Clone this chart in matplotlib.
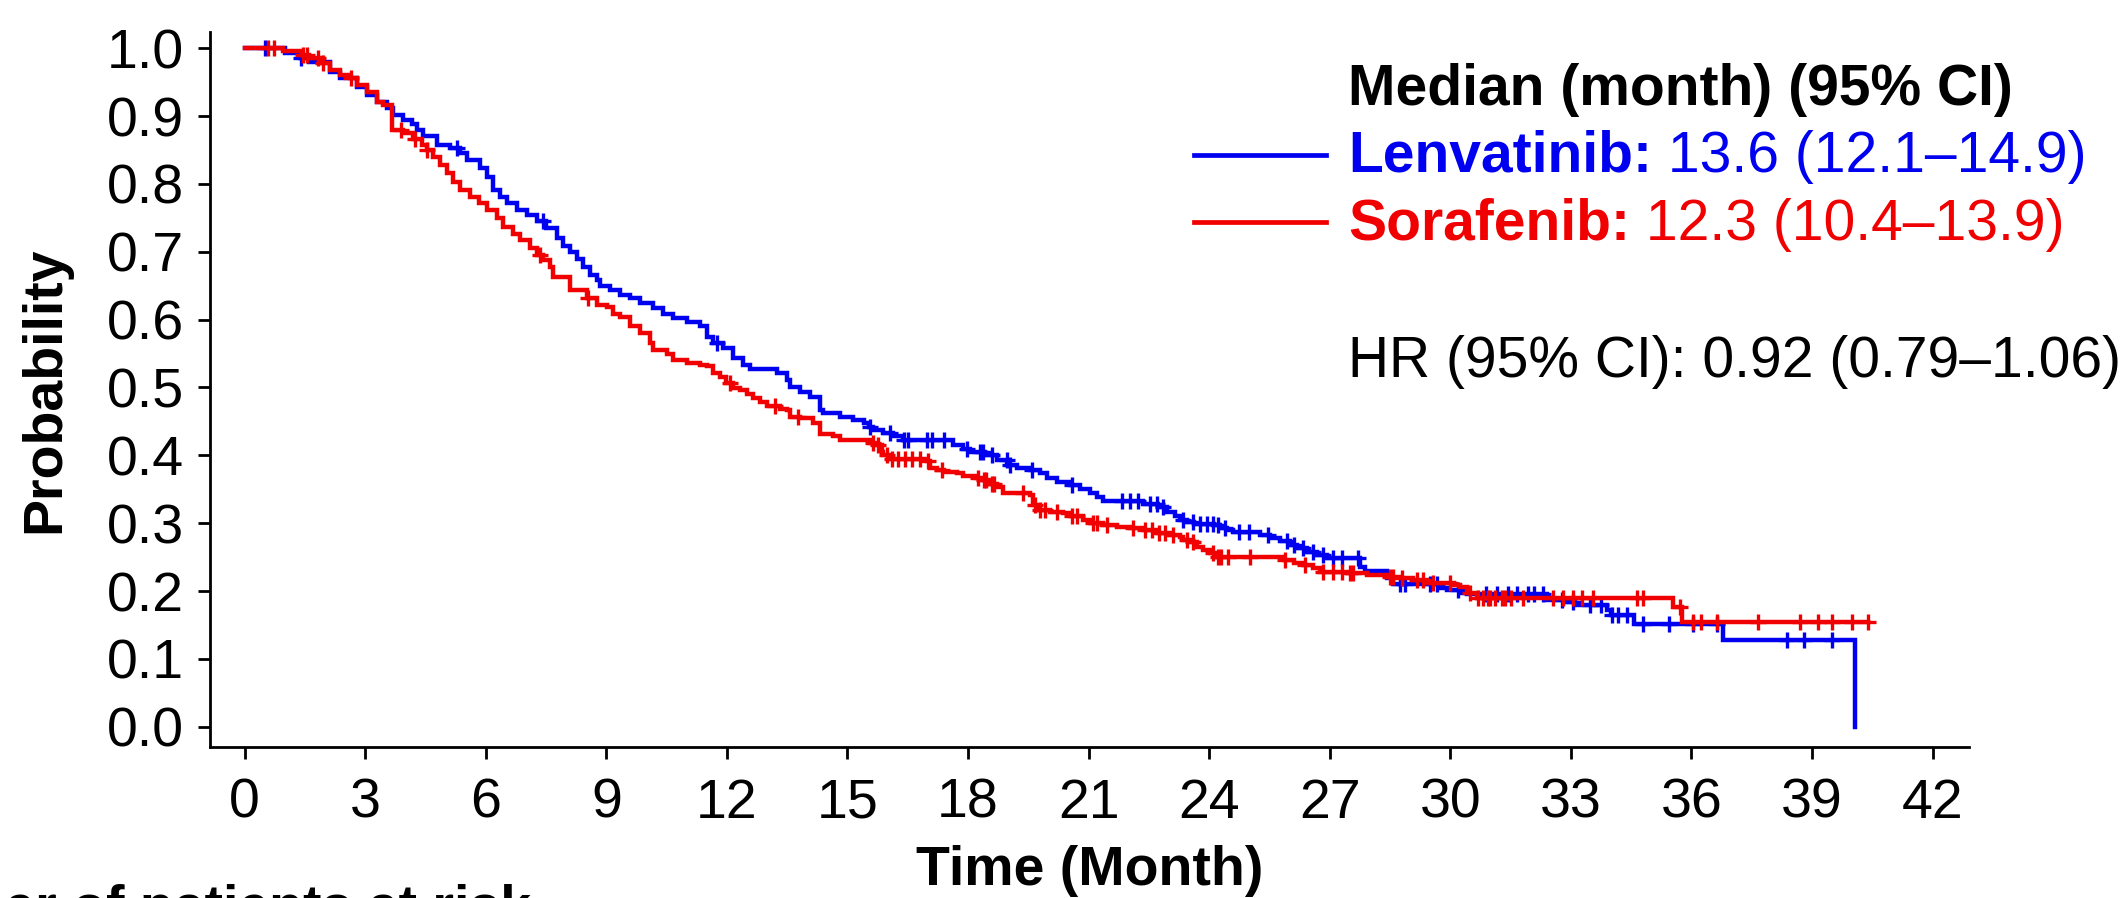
import numpy as np
import matplotlib
matplotlib.use("Agg")
import matplotlib.pyplot as plt
from matplotlib.lines import Line2D

plt.rcParams['font.family'] = ['Liberation Sans', 'DejaVu Sans']

# ---------------- Kaplan-Meier data (months, survival probability) ----------------
lenv_times = [1.00, 1.38, 1.60, 2.12, 2.37, 2.79, 3.04, 3.29, 3.54, 3.70, 3.95, 4.16,
              4.28, 4.45, 4.78, 5.11, 5.36, 5.53, 5.86, 6.02, 6.19, 6.35, 6.52, 6.77,
              7.02, 7.27, 7.50, 7.77, 7.93, 8.10, 8.26, 8.43, 8.59, 8.76, 8.84, 9.09,
              9.34, 9.59, 9.84, 10.17, 10.42, 10.67, 11.00, 11.33, 11.50, 11.66, 11.91,
              12.16, 12.41, 12.58, 13.24, 13.49, 13.57, 13.82, 14.07, 14.32, 14.40,
              14.82, 15.15, 15.40, 15.53, 15.64, 15.89, 16.14, 16.39, 17.63, 17.88,
              18.05, 18.42, 18.71, 18.98, 19.21, 19.54, 19.79, 19.96, 20.21, 20.54,
              20.79, 21.03, 21.20, 21.37, 22.36, 22.72, 22.94, 23.15, 23.27, 23.44,
              23.63, 24.12, 24.27, 24.44, 24.60, 25.27, 25.51, 25.76, 26.01, 26.18,
              26.43, 26.68, 26.93, 27.75, 27.88, 28.42, 28.58, 29.74, 29.91, 30.24,
              30.41, 32.40, 32.90, 33.10, 33.89, 34.00, 34.56, 36.79, 40.07]
lenv_surv = [0.993, 0.985, 0.980, 0.965, 0.956, 0.943, 0.931, 0.921, 0.912, 0.902, 0.894, 0.889,
             0.880, 0.870, 0.858, 0.853, 0.845, 0.836, 0.823, 0.811, 0.791, 0.781, 0.772, 0.762,
             0.755, 0.745, 0.735, 0.720, 0.708, 0.700, 0.690, 0.678, 0.666, 0.659, 0.649, 0.644,
             0.636, 0.632, 0.624, 0.617, 0.609, 0.602, 0.597, 0.590, 0.575, 0.565, 0.558,
             0.543, 0.533, 0.528, 0.521, 0.511, 0.501, 0.494, 0.486, 0.467, 0.462,
             0.457, 0.452, 0.447, 0.442, 0.437, 0.433, 0.428, 0.423, 0.415, 0.410,
             0.405, 0.401, 0.393, 0.386, 0.381, 0.378, 0.374, 0.366, 0.361, 0.356,
             0.351, 0.344, 0.339, 0.332, 0.329, 0.324, 0.317, 0.310, 0.305, 0.302,
             0.299, 0.297, 0.2925, 0.290, 0.287, 0.283, 0.278, 0.273, 0.268, 0.263,
             0.258, 0.253, 0.248, 0.236, 0.229, 0.219, 0.211, 0.204, 0.2015, 0.197,
             0.195, 0.187, 0.184, 0.179, 0.172, 0.165, 0.152, 0.128, 0.0]
lenv_end = 40.07
lenv_censor = [0.50, 1.40, 5.28, 7.43, 11.75, 15.56, 16.06, 16.40, 16.50, 16.97, 17.10,
               17.40, 17.97, 18.30, 18.38, 18.59, 18.96, 19.05, 19.58, 20.58, 21.82,
               22.03, 22.24, 22.53, 22.70, 22.86, 23.36, 23.61, 23.77, 23.94, 24.10,
               24.23, 24.40, 24.73, 24.98, 25.47, 25.93, 26.10, 26.34, 26.59, 26.84,
               27.09, 27.30, 27.71, 28.75, 28.87, 29.49, 29.66, 30.20, 30.90, 31.15,
               31.44, 31.65, 31.94, 32.07, 32.30, 32.77, 33.06, 33.47, 33.76, 34.02,
               34.18, 34.39, 34.80, 35.43, 36.05, 36.63, 38.37, 38.79, 39.49]

sora_times = [0.96, 1.42, 1.60, 1.92, 2.12, 2.37, 2.62, 2.79, 3.04, 3.29, 3.45, 3.66,
              3.95, 4.20, 4.41, 4.53, 4.70, 4.86, 5.03, 5.19, 5.36, 5.61, 5.82, 6.02,
              6.27, 6.44, 6.69, 6.85, 7.10, 7.27, 7.43, 7.60, 7.68, 8.10, 8.51, 8.76,
              9.01, 9.17, 9.34, 9.59, 9.84, 10.09, 10.17, 10.50, 10.67, 11.00, 11.33,
              11.50, 11.66, 11.83, 11.99, 12.16, 12.33, 12.49, 12.66, 12.82, 12.99,
              13.32, 13.49, 13.57, 13.82, 14.15, 14.32, 14.65, 14.82, 15.23, 15.56,
              15.73, 15.85, 15.89, 16.06, 16.97, 17.06, 17.22, 17.39, 17.72, 17.88,
              18.21, 18.38, 18.55, 18.71, 18.88, 19.54, 19.62, 19.71, 20.04, 20.37,
              20.54, 20.87, 21.03, 21.37, 21.70, 22.03, 22.36, 22.70, 23.03, 23.27,
              23.36, 23.52, 23.69, 23.85, 24.02, 24.19, 25.85, 26.10, 26.34, 26.59,
              26.76, 27.42, 27.92, 28.42, 28.75, 29.08, 29.41, 30.08, 30.24, 30.41,
              30.66, 35.55, 35.76]
sora_surv = [0.9965, 0.990, 0.985, 0.978, 0.968, 0.961, 0.956, 0.946, 0.936, 0.921, 0.916, 0.880,
             0.875, 0.867, 0.858, 0.850, 0.840, 0.828, 0.816, 0.803, 0.791, 0.781, 0.772, 0.762,
             0.750, 0.737, 0.727, 0.718, 0.705, 0.696, 0.688, 0.678, 0.663, 0.644, 0.632, 0.622,
             0.619, 0.609, 0.604, 0.590, 0.580, 0.565, 0.555, 0.550, 0.541, 0.536, 0.533,
             0.531, 0.521, 0.516, 0.506, 0.499, 0.496, 0.491, 0.484, 0.479, 0.472,
             0.469, 0.467, 0.457, 0.455, 0.447, 0.432, 0.428, 0.423, 0.422, 0.418,
             0.415, 0.405, 0.400, 0.395, 0.391, 0.382, 0.379, 0.376, 0.3735, 0.369,
             0.366, 0.364, 0.358, 0.354, 0.344, 0.341, 0.327, 0.319, 0.317, 0.3145,
             0.310, 0.305, 0.300, 0.297, 0.295, 0.2925, 0.290, 0.285, 0.282, 0.280,
             0.275, 0.2727, 0.265, 0.2605, 0.2556, 0.2506, 0.2457, 0.2409, 0.2383, 0.2335,
             0.2285, 0.226, 0.2236, 0.221, 0.2187, 0.2162, 0.2114, 0.2089, 0.2064, 0.1966,
             0.189, 0.177, 0.155]
sora_end = 40.40
sora_censor = [0.59, 0.72, 1.45, 1.55, 1.83, 1.96, 2.65, 3.90, 4.25, 4.55, 7.35, 8.55,
               12.08, 13.20, 13.78, 15.64, 15.75, 15.98, 16.10, 16.27, 16.43, 16.60,
               16.81, 17.01, 17.35, 18.25, 18.40, 18.45, 18.60, 18.65, 19.37, 19.66,
               19.79, 19.91, 20.21, 20.58, 20.71, 21.10, 21.20, 21.45, 22.10, 22.40,
               22.57, 22.74, 22.90, 23.11, 23.44, 23.61, 24.10, 24.23, 24.30, 24.48,
               25.02, 25.89, 26.39, 26.84, 27.09, 27.30, 27.51, 27.59, 28.50, 28.58,
               28.80, 29.16, 29.33, 29.58, 29.99, 30.49, 30.70, 30.82, 30.94, 30.99,
               31.11, 31.28, 31.36, 31.52, 31.81, 32.56, 32.81, 33.06, 33.27, 33.56,
               34.64, 34.80, 35.71, 36.05, 36.25, 36.63, 37.66, 38.70, 39.16, 39.49,
               39.99, 40.40]

x_ticks = list(range(0, 43, 3))
y_ticks = [0.0, 0.1, 0.2, 0.3, 0.4, 0.5, 0.6, 0.7, 0.8, 0.9, 1.0]

BLUE = '#0000F0'
RED = '#F00000'

W, H = 2123, 898
fig = plt.figure(figsize=(W / 100, H / 100), dpi=100)
ax = fig.add_axes([210 / W, 1 - 746.7 / H, (1969 - 210) / W, 714.4 / H])


def draw_km(times, surv, end, censor, color):
    times = np.asarray(times)
    surv = np.asarray(surv)
    t = np.r_[0.0, times, end]
    s = np.r_[1.0, surv, surv[-1]]
    ax.step(t, s, where='post', color=color, lw=3.2, solid_joinstyle='miter')
    idx = np.searchsorted(times, censor, side='right')
    s_c = np.r_[1.0, surv][idx]
    ax.plot(censor, s_c, ls='none', marker='+', ms=12, mew=2.4, color=color)


draw_km(lenv_times, lenv_surv, lenv_end, lenv_censor, BLUE)
draw_km(sora_times, sora_surv, sora_end, sora_censor, RED)

ax.set_xlim(-0.861, 42.906)
ax.set_ylim(-0.0295, 1.0236)
ax.set_xticks(x_ticks)
ax.set_yticks(y_ticks)
ax.set_xticklabels([str(v) for v in x_ticks])
ax.set_yticklabels([f'{v:.1f}' for v in y_ticks])
for side in ('top', 'right'):
    ax.spines[side].set_visible(False)
for side in ('left', 'bottom'):
    ax.spines[side].set_linewidth(2.0)
ax.tick_params(axis='both', direction='out', length=8.5, width=2.0, labelsize=40)
ax.tick_params(axis='x', pad=14)
ax.tick_params(axis='y', pad=10)

ax.set_xlabel('Time (Month)', fontsize=40, fontweight='bold')
ax.xaxis.set_label_coords(0.5, -0.138)
ax.set_ylabel('Probability', fontsize=40, fontweight='bold')
ax.yaxis.set_label_coords(-0.079, 0.5)

# Legend block on the right
FS = 41
lx = 1348 / W
fig.text(lx, 1 - 105 / H, 'Median (month) (95% CI)', fontsize=FS, fontweight='bold',
         color='black', ha='left', va='baseline')

rows = [('Lenvatinib:', ' 13.6 (12.1\u201314.9)', BLUE, 172, 155),
        ('Sorafenib:', ' 12.3 (10.4\u201313.9)', RED, 240, 222)]
for name, stat, col, base, ly in rows:
    t1 = fig.text(lx, 1 - base / H, name, fontsize=FS, fontweight='bold', color=col,
                  ha='left', va='baseline')
    fig.add_artist(plt.Annotation(stat, xy=(1, 0), xycoords=t1, fontsize=FS, color=col,
                                  ha='left', va='bottom'))
    fig.add_artist(Line2D([1194 / W, 1326 / W], [1 - ly / H, 1 - ly / H],
                          transform=fig.transFigure, color=col, lw=3.4))

fig.text(lx, 1 - 377 / H, 'HR (95% CI): 0.92 (0.79\u20131.06)', fontsize=FS,
         color='black', ha='left', va='baseline')

# Start of the at-risk table heading below the plot
fig.text(531 / W, 1 - 884 / H, 'Number of patients at risk', fontsize=40,
         fontweight='bold', ha='right', va='top')

fig.savefig('out.png', dpi=100)
